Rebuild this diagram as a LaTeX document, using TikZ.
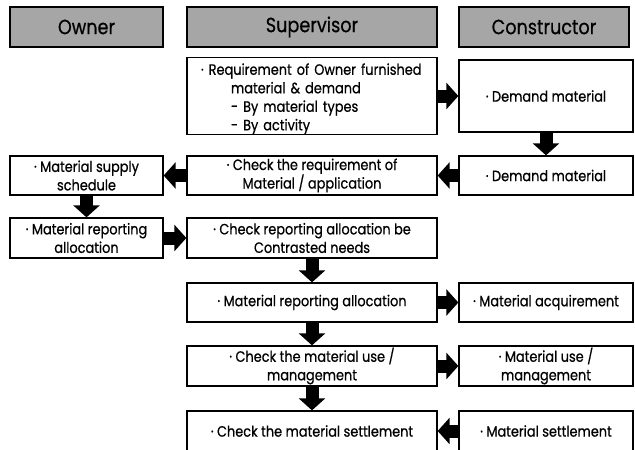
\documentclass[tikz,border=0pt]{standalone}
\usepackage{fontspec}
\setmainfont{Poppins}[FakeStretch=0.86, FakeBold=0.6]
\usetikzlibrary{positioning,arrows.meta}
\definecolor{headGray}{HTML}{A6A6A6}
\tikzstyle{headBox}=[draw, line width=1.5pt, fill=headGray, minimum height=40pt, inner sep=0pt, font=\fontsize{20.5}{23}\selectfont]
\tikzstyle{stepBox}=[draw, line width=1.3pt, fill=white, minimum height=40pt, inner sep=0pt, align=center, font=\fontsize{15}{18.5}\selectfont]
\tikzstyle{blockFlow}=[line width=13pt, -{Triangle[width=26pt, length=12pt]}]

\begin{document}
\begin{tikzpicture}[x=1pt, y=-1pt]
	\useasboundingbox (0, 0) rectangle (635, 450);

	\node[headBox, minimum width=153pt] (oh) at (86.5, 27) {Owner};
	\node[headBox, minimum width=250pt] (sh) at (312, 27) {Supervisor};
	\node[headBox, minimum width=170pt] (ch) at (544, 27) {Constructor};

	\node[stepBox, minimum width=250pt, minimum height=72pt, align=left, text width=238pt] (s1) at (312, 96)
		{\rule{0pt}{17pt}\hspace*{8pt}· Requirement of Owner furnished\\ \hspace*{38pt}material \& demand\\ \hspace*{38pt}- By material types\\ \hspace*{38pt}- By activity};
	\node[stepBox, minimum width=174pt, minimum height=72pt] (c1) at (546, 96) {· Demand material};

	\node[stepBox, minimum width=153pt, minimum height=39pt] (o2) at (86.5, 175.5) {· Material supply\\ schedule};
	\node[stepBox, minimum width=250pt, minimum height=39pt] (s2) at (312, 175.5) {· Check the requirement of\\ Material / application};
	\node[stepBox, minimum width=174pt, minimum height=39pt] (c2) at (546, 175.5) {· Demand material};

	\node[stepBox, minimum width=153pt] (o3) at (86.5, 238) {· Material reporting\\ allocation};
	\node[stepBox, minimum width=250pt] (s3) at (312, 238) {· Check reporting allocation be\\ Contrasted needs};

	\node[stepBox, minimum width=250pt, minimum height=39pt] (s4) at (312, 302.5) {· Material reporting allocation};
	\node[stepBox, minimum width=174pt, minimum height=39pt] (c4) at (546, 302.5) {· Material acquirement};

	\node[stepBox, minimum width=250pt] (s5) at (312, 366) {· Check the material use /\\ management};
	\node[stepBox, minimum width=174pt] (c5) at (546, 366) {· Material use /\\ management};

	\node[stepBox, minimum width=250pt] (s6) at (312, 431) {· Check the material settlement};
	\node[stepBox, minimum width=174pt] (c6) at (546, 431) {· Material settlement};

	\draw[blockFlow] (s1) -- (c1);
	\draw[blockFlow] (c1) -- (c2);
	\draw[blockFlow] (c2) -- (s2);
	\draw[blockFlow] (s2) -- (o2);
	\draw[blockFlow] (o2) -- (o3);
	\draw[blockFlow] (o3) -- (s3);
	\draw[blockFlow] (s3) -- (s4);
	\draw[blockFlow] (s4) -- (c4);
	\draw[blockFlow] (s4) -- (s5);
	\draw[blockFlow] (s5) -- (c5);
	\draw[blockFlow] (s5) -- (s6);
	\draw[blockFlow] (c6) -- (s6);
\end{tikzpicture}
\end{document}
